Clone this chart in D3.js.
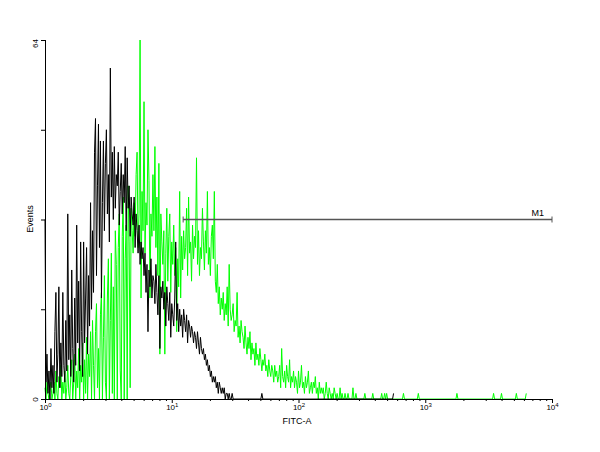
<!DOCTYPE html>
<html><head><meta charset="utf-8">
<script src="https://cdn.jsdelivr.net/npm/d3@7"></script>
<style>
html,body{margin:0;padding:0;background:#fff;}
svg{display:block;}
text{font-family:"Liberation Sans",Arial,sans-serif;fill:#000;}
</style></head>
<body>
<svg id="chart" width="600" height="452"></svg>
<script>
// ---- data ----
const channelsPerDecade = 128;           // histogram resolution (channels per log decade)
const xDomain = [1, 10000];
const yDomain = [0, 64];
const yTickValues = [0, 16, 32, 48, 64];
const yTickLabels = ["0", "", "", "", "64"];
const xMajorTicks = [1, 10, 100, 1000, 10000];
const xTickExponents = ["0", "1", "2", "3", "4"];
const xLabel = "FITC-A";
const yLabel = "Events";
const markerName = "M1";
const markerRange = [12.3, 10000];

// black histogram (counts per channel, channel 0 = 10^0)
const blackCounts = [
 32,3,8,1,5,0,9,2,6,1,
 12,19,3,8,20,2,10,4,19,6,
 3,14,5,33,7,15,4,23,9,3,
 18,6,31,10,21,5,28,12,4,28,
 10,18,27,8,22,13,35,16,30,19,
 44,50,22,38,49,27,46,18,35,46,
 30,42,48,33,40,28,59,36,44,32,
 45,34,40,38,44,31,37,42,33,40,
 35,45,30,43,34,38,29,36,33,31,
 36,27,33,30,26,31,24,28,25,27,
 22,26,19,24,12,23,20,25,18,22,
 21,17,24,19,15,22,9,20,18,21,
 16,19,13,20,17,14,19,11,17,15,
 13,18,28,14,17,12,16,13,15,11,
 16,14,12,15,10,14,13,11,13,12,
 10,12,11,9,12,10,8,11,9,8,
 9,7,8,6,7,5,6,4,5,3,
 4,3,4,2,3,1,3,2,1,2,
 1,2,0,1,1,0,1,0,0,1,
 0
];
// isolated single events further right: [channel, count]
const blackSparse = [[219, 1], [352, 1]];

// green histogram
const greenCounts = [
 2,0,3,1,0,2,3,0,1,3,
 0,5,1,0,4,2,6,0,3,1,
 5,0,2,6,1,0,4,7,0,3,
 8,0,5,2,9,0,6,3,10,0,
 7,1,11,0,8,4,12,0,14,6,
 0,12,17,2,9,0,15,19,0,11,
 22,3,0,18,25,0,14,26,1,20,
 0,30,24,0,27,33,5,0,29,36,
 0,25,31,0,38,28,2,34,30,26,
 35,29,40,44,27,33,64,18,37,30,
 53,26,35,31,48,39,18,33,29,40,
 30,45,27,36,22,42,8,33,28,24,
 30,8,26,34,21,29,33,19,28,24,
 31,22,27,12,25,20,37,18,29,23,
 30,25,27,34,22,36,26,28,21,31,
 25,29,27,43,24,30,22,27,25,34,
 28,23,30,26,37,24,27,22,29,31,
 25,37,21,19,24,17,20,15,18,16,
 19,14,17,15,20,13,24,16,14,15,
 17,12,14,13,19,11,13,10,14,12,
 11,9,13,10,8,11,9,12,7,10,
 8,9,6,10,7,8,6,9,7,5,
 7,6,8,5,6,4,7,5,4,6,
 5,3,6,4,5,3,4,6,2,9,
 4,3,5,2,6,4,3,7,2,4,
 3,5,2,4,3,1,5,2,3,6,
 2,3,1,4,2,3,5,1,2,3,
 1,3,2,4,1,2,0,3,1,2,
 1,2,0,1,3,1,0,2,1,0,
 1,0,2,1,0,1,0,0,2,0,
 1,0,0,1,0,0,1,0,0,0,
 0,2,0,0,1
];
const greenSparse = [[323,1],[331,1],[340,1],[343,1],[345,1],[362,1],[377,1],[416,1],[453,1],[461,1],[476,1],[486,1]];

// ---- chart ----
const svg = d3.select("#chart");
const x = d3.scaleLog().domain(xDomain).range([45, 552]);
const y = d3.scaleLinear().domain(yDomain).range([399, 40]);
const chanValue = c => Math.pow(10, c / channelsPerDecade);

function buildSeries(dense, sparse) {
  const last = Math.max(dense.length - 1, ...sparse.map(s => s[0]));
  const arr = [];
  for (let c = 0; c <= last; c++) arr.push(c < dense.length ? dense[c] : 0);
  sparse.forEach(([c, v]) => { arr[c] = v; });
  return arr.map((v, c) => ({c, v}));
}

const line = d3.line().x(d => x(chanValue(d.c))).y(d => y(d.v));

svg.append("path").datum(buildSeries(greenCounts, greenSparse))
  .attr("d", line).attr("fill", "none").attr("stroke", "#00ff00").attr("stroke-width", 1);
svg.append("path").datum(buildSeries(blackCounts, blackSparse))
  .attr("d", line).attr("fill", "none").attr("stroke", "#000").attr("stroke-width", 1);

// y axis
const yAxis = svg.append("g").attr("transform", "translate(45,0)")
  .call(d3.axisLeft(y).tickValues(yTickValues).tickSize(4).tickFormat(""));
yAxis.select(".domain").attr("stroke", "#000").attr("d", `M0.5,${y(64)}V${y(0)+0.5}`);
yAxis.selectAll(".tick line").attr("stroke", "#000");
yAxis.selectAll(".tick").append("text")
  .attr("transform", "rotate(-90)")
  .attr("x", (d, i) => i === yTickLabels.length - 1 ? -3 : 0)
  .attr("y", -7)
  .attr("text-anchor", "middle")
  .attr("font-size", 8)
  .text((d, i) => yTickLabels[i]);

// x axis
const minorTicks = [];
for (let dec = 0; dec < 4; dec++) for (let m = 2; m <= 9; m++) minorTicks.push(m * Math.pow(10, dec));
const xg = svg.append("g").attr("transform", "translate(0,399)");
xg.call(d3.axisBottom(x).tickValues(minorTicks).tickSize(2).tickFormat(""));
xg.select(".domain").attr("stroke", "#000").attr("d", `M45,0.5H${x(1e4)+0.5}`);
xg.selectAll(".tick line").attr("stroke", "#000");
const xg2 = svg.append("g").attr("transform", "translate(0,399)");
xg2.call(d3.axisBottom(x).tickValues(xMajorTicks).tickSize(4).tickFormat(""));
xg2.select(".domain").remove();
xg2.selectAll(".tick line").attr("stroke", "#000");
const lbl = xg2.selectAll(".tick").append("text")
  .attr("y", 11).attr("text-anchor", "middle").attr("font-size", 8);
lbl.append("tspan").text("10");
lbl.append("tspan").attr("dy", -3).attr("font-size", 6).text((d, i) => xTickExponents[i]);

// axis titles
svg.append("text").attr("x", 297).attr("y", 424).attr("text-anchor", "middle")
  .attr("font-size", 9).text(xLabel);
svg.append("text").attr("transform", "translate(33,219) rotate(-90)")
  .attr("text-anchor", "middle").attr("font-size", 9).text(yLabel);

// marker M1
const my = y(32);
const mg = svg.append("g").attr("stroke", "#555").attr("stroke-width", 1.5);
mg.append("line").attr("x1", x(markerRange[0])).attr("x2", x(markerRange[1])).attr("y1", my).attr("y2", my);
mg.append("line").attr("x1", x(markerRange[0])).attr("x2", x(markerRange[0])).attr("y1", my - 3).attr("y2", my + 3).attr("stroke-width", 1);
mg.append("line").attr("x1", x(markerRange[1])).attr("x2", x(markerRange[1])).attr("y1", my - 3).attr("y2", my + 3).attr("stroke-width", 1);
svg.append("text").attr("x", x(markerRange[1]) - 8).attr("y", my - 4).attr("text-anchor", "end")
  .attr("font-size", 9).text(markerName);
</script>
</body></html>
